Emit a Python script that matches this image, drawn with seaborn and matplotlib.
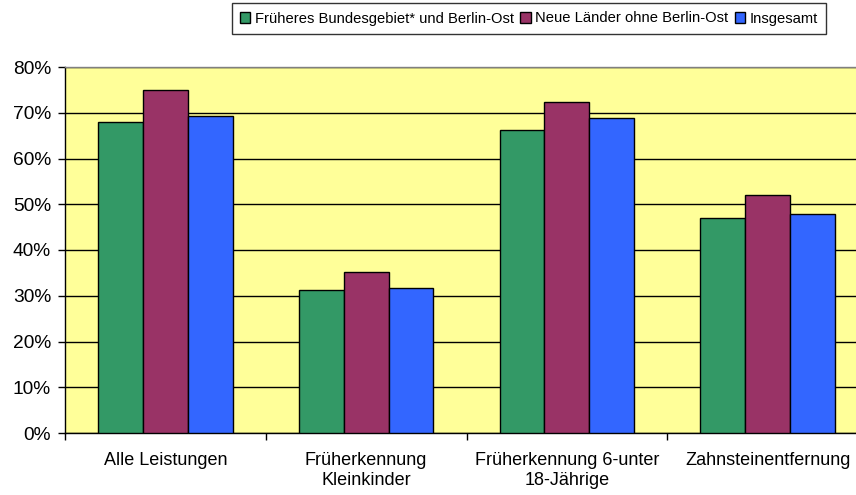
import matplotlib
matplotlib.use("Agg")
import matplotlib.pyplot as plt
import seaborn as sns
import pandas as pd
from matplotlib.ticker import FixedLocator, FuncFormatter
from matplotlib.patches import Patch

categories = ["Alle Leistungen", "Früherkennung\nKleinkinder",
              "Früherkennung 6-unter\n18-Jährige", "Zahnsteinentfernung"]
series = ["Früheres Bundesgebiet* und Berlin-Ost",
          "Neue Länder ohne Berlin-Ost", "Insgesamt"]
west = [67.9, 31.3, 66.3, 47.0]
ost = [74.9, 35.3, 72.4, 52.0]
gesamt = [69.3, 31.8, 68.8, 47.8]
yticks = [0, 10, 20, 30, 40, 50, 60, 70, 80]
colors = ["#339966", "#993366", "#3366FF"]

rows = []
for s, vals in zip(series, [west, ost, gesamt]):
    for c, v in zip(categories, vals):
        rows.append({"Kategorie": c, "Serie": s, "Wert": v})
df = pd.DataFrame(rows)

sns.set_theme(style="white")
plt.rcParams["font.family"] = ["Liberation Sans", "DejaVu Sans"]

fig = plt.figure(figsize=(8.56, 4.95), dpi=100, facecolor="white")
ax = fig.add_axes([65/856, 62/495, (868-65)/856, (433-67)/495])
ax.set_facecolor("#FFFF99")

sns.barplot(data=df, x="Kategorie", y="Wert", hue="Serie", order=categories,
            hue_order=series, palette=colors, width=0.67, gap=0,
            edgecolor="black", linewidth=1.0, saturation=1, ax=ax,
            legend=False, zorder=3)

ax.set_ylim(0, 80)
ax.set_xlim(-0.5, 3.5)
ax.yaxis.set_major_locator(FixedLocator(yticks))
ax.yaxis.set_major_formatter(FuncFormatter(lambda v, p: f"{int(v)}%"))
ax.grid(axis="y", color="black", linewidth=1.0, zorder=1)
ax.set_axisbelow(True)
ax.set_xlabel("")
ax.set_ylabel("")

ax.xaxis.set_minor_locator(FixedLocator([-0.5, 0.5, 1.5, 2.5, 3.5]))
ax.tick_params(axis="x", which="major", length=0, pad=14, labelsize=13, colors="black")
ax.tick_params(axis="x", which="minor", length=5, width=1, color="black", direction="out", bottom=True)
ax.tick_params(axis="y", which="major", length=5, width=1, color="black", direction="out",
               left=True, labelsize=13.8, pad=5, labelcolor="black")

for sp in ["left", "bottom"]:
    ax.spines[sp].set_color("black")
    ax.spines[sp].set_linewidth(1.0)
ax.spines["top"].set_color("#808080")
ax.spines["top"].set_linewidth(1.0)
ax.spines["right"].set_visible(False)

handles = [Patch(facecolor=c, edgecolor="black", linewidth=1.0) for c in colors]
leg = fig.legend(handles, series, loc="center", bbox_to_anchor=(529/856, 1 - 18.5/495),
                 ncol=3, frameon=True, fancybox=False, edgecolor="black",
                 fontsize=10.6, handlelength=0.7, handleheight=0.7,
                 handletextpad=0.3, columnspacing=0.45, borderpad=0.55,
                 labelcolor="black")
leg.get_frame().set_linewidth(1.0)

fig.savefig("out.png", dpi=100, facecolor="white")
